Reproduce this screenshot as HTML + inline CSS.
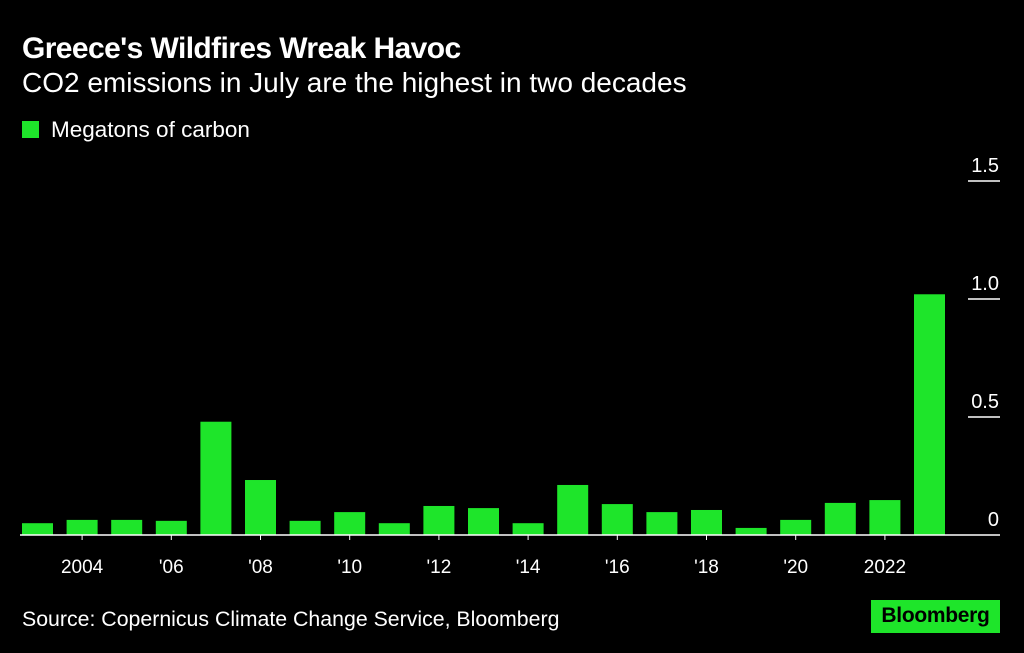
<!DOCTYPE html>
<html><head><meta charset="utf-8"><style>
body{margin:0;background:#000;width:1024px;height:653px;overflow:hidden;font-family:"Liberation Sans",sans-serif;color:#fff;position:relative}
.t{position:absolute;left:22px;top:32px;font-size:30px;font-weight:bold;letter-spacing:-0.6px}
.s{position:absolute;left:22px;top:67px;font-size:28px}
.lg{position:absolute;left:22px;top:117px;font-size:22.5px}
.lg i{display:inline-block;width:17px;height:17px;background:#1ee52a;margin-right:12px;vertical-align:-1px}
.src{position:absolute;left:22px;top:607px;font-size:21.3px}
.bb{position:absolute;left:871px;top:600px;width:129px;height:33px;box-sizing:border-box;text-align:center;background:#1ee52a;color:#000;font-weight:bold;font-size:21px;padding-top:4px;letter-spacing:-0.3px}
</style></head><body>
<div class="t">Greece's Wildfires Wreak Havoc</div>
<div class="s">CO2 emissions in July are the highest in two decades</div>
<div class="lg"><i></i>Megatons of carbon</div>
<svg id="c" width="1024" height="653" style="position:absolute;left:0;top:0"></svg>
<div class="src">Source: Copernicus Climate Change Service, Bloomberg</div>
<div class="bb">Bloomberg</div>
<script>
const years=[2003,2004,2005,2006,2007,2008,2009,2010,2011,2012,2013,2014,2015,2016,2017,2018,2019,2020,2021,2022,2023];
const values=[0.05,0.064,0.064,0.06,0.48,0.233,0.06,0.097,0.05,0.123,0.114,0.05,0.212,0.131,0.097,0.106,0.03,0.064,0.136,0.148,1.02];
const yTicks=[0,0.5,1.0,1.5];
const yTickLabels=["0","0.5","1.0","1.5"];
const xLabelYears=[2004,2006,2008,2010,2012,2014,2016,2018,2020,2022];
const xLabels=["2004","'06","'08","'10","'12","'14","'16","'18","'20","2022"];
const NS="http://www.w3.org/2000/svg";
const svg=document.getElementById('c');
const y0=535,pxPer=236;
const y=v=>y0-v*pxPer;
const x=yr=>37.5+(yr-2003)*44.6;
function el(t,a){const e=document.createElementNS(NS,t);for(const k in a)e.setAttribute(k,a[k]);svg.appendChild(e);return e;}
yTicks.forEach((v,i)=>{
  if(v>0){const l=el('line',{x1:968,x2:1000,y1:y(v),y2:y(v),stroke:'#fff','stroke-width':1.5});
  
  }
  const t=el('text',{x:999,y:y(v)-9,'text-anchor':'end',fill:'#fff','font-size':20});
  t.textContent=yTickLabels[i];
  
  
});
years.forEach((yr,i)=>{
  const r=el('rect',{x:x(yr)-15.5,y:y(values[i]),width:31,height:values[i]*pxPer,fill:'#1ee52a'});
  
  
});
const base=el('line',{x1:20,x2:1000,y1:y0,y2:y0,stroke:'#fff','stroke-width':1.5});


xLabelYears.forEach((yr,i)=>{
  const tk=el('line',{x1:x(yr),x2:x(yr),y1:y0,y2:y0+5,stroke:'#fff','stroke-width':1});
  
  
  const t=el('text',{x:x(yr),y:573,'text-anchor':'middle',fill:'#fff','font-size':19});
  t.textContent=xLabels[i];
  
  
});
</script>
</body></html>
